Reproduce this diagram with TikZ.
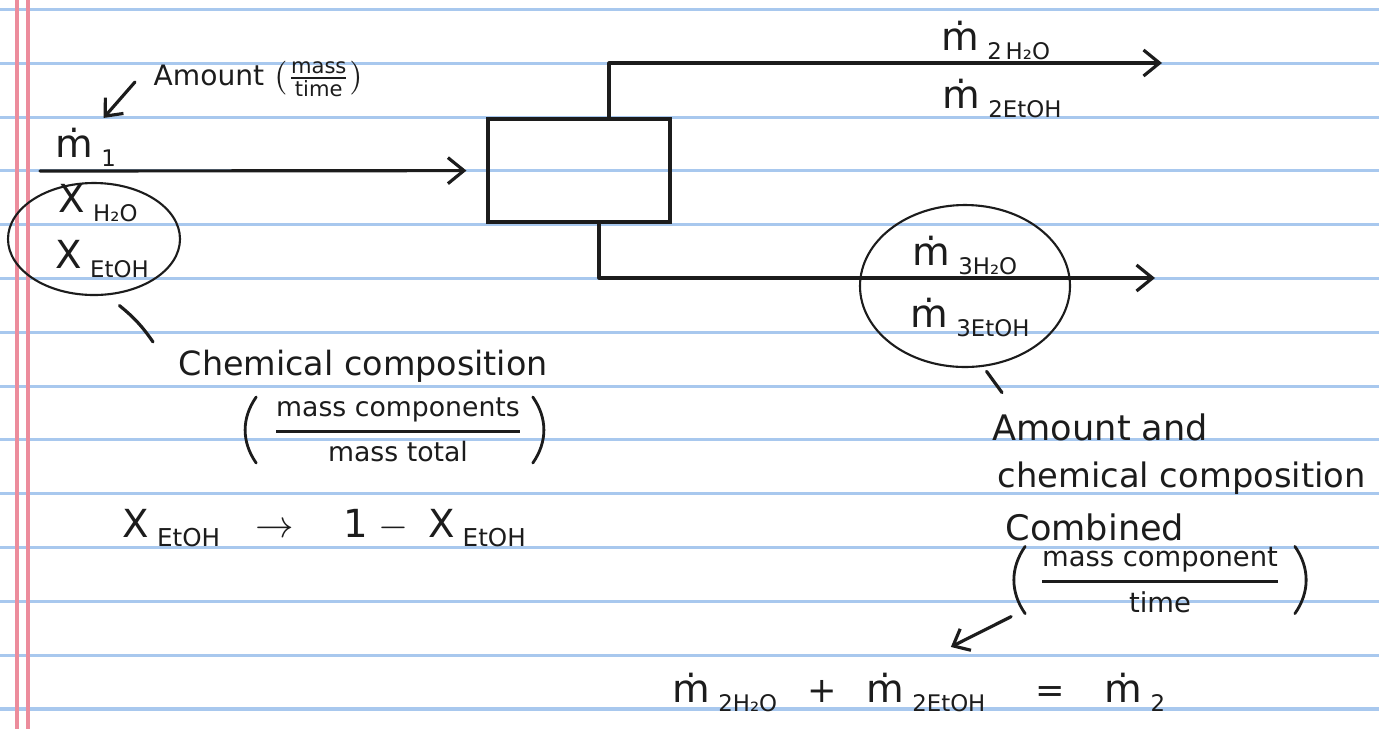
\documentclass[tikz,border=0pt]{standalone}
\usepackage{amsmath}
\usepackage{fontspec}
\setmainfont{DejaVu Sans}
\usepackage{tikz}
\usetikzlibrary{arrows.meta,positioning,shapes.geometric}

\definecolor{ruleblue}{RGB}{168,200,238}
\definecolor{marginred}{RGB}{236,140,156}
\definecolor{ink}{RGB}{28,28,28}

\newcommand{\lo}[2][6.5]{\hspace{0.8mm}\raisebox{-0.9mm}{\fontsize{#1}{#1}\selectfont #2}}
\newcommand{\mflow}[1]{{\fontsize{11}{13}\selectfont ṁ}\lo{#1}}
\newcommand{\massfr}[1]{{\fontsize{11}{13}\selectfont X}\lo{#1}}
\newcommand{\handfrac}[2]{\genfrac{}{}{0.8pt}{0}{\text{#1}}{\text{#2}}}

\begin{document}
\begin{tikzpicture}[
    x=0.1mm, y=-0.1mm,
    pen/.style={draw=ink, line width=0.9pt, line cap=round, line join=round},
    flow/.style={pen, -{Straight Barb[length=1.6mm,width=2.6mm]}},
    pointer/.style={pen, -{Straight Barb[length=1.4mm,width=2.4mm]}},
    paren/.style={pen, line width=0.8pt},
    unitbox/.style={draw=ink, line width=0.9pt, rectangle, minimum width=18.2mm, minimum height=10.3mm},
    ring/.style={draw=ink, line width=0.6pt, ellipse, inner sep=0pt},
    hand/.style={text=ink, inner sep=0pt, font=\fontsize{10}{12}\selectfont},
    sym/.style={hand, anchor=base west}
]

% ruled notebook page
\useasboundingbox (0,0) rectangle (1379,729);
\fill[white] (0,0) rectangle (1379,729);
\foreach \k in {0,...,13}
    \draw[ruleblue, line width=0.9pt] (0,{9.5+53.8*\k}) -- (1379,{9.5+53.8*\k});
\draw[marginred, line width=0.9pt] (17,0) -- (17,729);
\draw[marginred, line width=0.9pt] (28,0) -- (28,729);

% unit and streams
\node[unitbox] (unit) at (579,170.5) {};
\coordinate (feed) at (40,171);
\coordinate (out2) at (1162,63);
\coordinate (out3) at (1155,278);

\draw[flow, shorten >=2mm] (feed) -- (unit);
\draw[flow] ([xshift=3mm]unit.north) |- (out2);
\draw[flow] ([xshift=2mm]unit.south) |- (out3);

% stream 1
\node[sym] (m1) at (55,157) {\mflow{1}};
\node[ring, minimum width=17.2mm, minimum height=11.2mm] (feedcomp) at (94,239) {};
\node[sym] (xw1) at (58,212) {\massfr{H₂O}};
\node[sym] (xe1) at (55,268) {\massfr{EtOH}};

% streams 2 and 3
\node[sym] (m2w) at (941,50) {\mflow{2\,H₂O}};
\node[sym] (m2e) at (942,108) {\mflow{2EtOH}};
\node[ring, minimum width=21mm, minimum height=16.2mm] (prodcomp) at (965,286) {};
\node[sym] (m3w) at (912,265) {\mflow{3H₂O}};
\node[sym] (m3e) at (910,327) {\mflow{3EtOH}};

% notes
\node[sym, font=\fontsize{8}{10}\selectfont] (amt) at (153,85) {Amount $\left(\frac{\text{mass}}{\text{time}}\right)$};
\node[sym, font=\fontsize{9.5}{11}\selectfont] (chem) at (178,375) {Chemical composition};
\node[hand, font=\fontsize{7.6}{9}\selectfont] (chemfrac) at (398,430) {$\handfrac{mass components}{mass total}$};
\draw[paren] ([xshift=-1.5mm]chemfrac.north west) to[bend right=35] ([xshift=-1.5mm]chemfrac.south west);
\draw[paren] ([xshift=0.8mm]chemfrac.north east) to[bend left=35] ([xshift=0.8mm]chemfrac.south east);
\node[sym, font=\fontsize{11}{13}\selectfont] (closure) at (122,537) {X\lo[7]{EtOH}\hspace{3.5mm}$\rightarrow$\hspace{5mm}1\hspace{1mm}$-$\hspace{2mm}X\lo[7]{EtOH}};

\node[sym] (both) at (992,440) {Amount and};
\node[sym, font=\fontsize{9.6}{12}\selectfont] (both2) at (997,487) {chemical composition};
\node[sym] (both3) at (1005,540) {Combined};
\node[hand, font=\fontsize{7.8}{9}\selectfont] (bothfrac) at (1160,580) {$\handfrac{mass component}{time}$};
\draw[paren] ([xshift=-1.2mm]bothfrac.north west) to[bend right=35] ([xshift=-1.2mm]bothfrac.south west);
\draw[paren] ([xshift=1.2mm]bothfrac.north east) to[bend left=35] ([xshift=1.2mm]bothfrac.south east);

\node[sym] (balance) at (672,702) {\mflow{2H₂O}\hspace{3mm}+\hspace{3mm}\mflow{2EtOH}\hspace{5mm}=\hspace{4mm}\mflow{2}};

% ticks and pointers
\draw[pointer] ([xshift=-1.8mm,yshift=0.3mm]amt.base west) -- ([xshift=-1.3mm,yshift=0.9mm]m1.north east);
\draw[pen] ([yshift=-1.2mm]feedcomp.-65) to[bend left=8] ([xshift=-2.5mm,yshift=0.7mm]chem.north west);
\draw[pen] ([yshift=-0.5mm]prodcomp.-75) -- ([xshift=1mm,yshift=2mm]both.north west);
\draw[pointer] ([xshift=-2.6mm,yshift=-0.3mm]bothfrac.south west) -- ([xshift=3.2mm,yshift=2.5mm]balance.north);

\end{tikzpicture}
\end{document}
